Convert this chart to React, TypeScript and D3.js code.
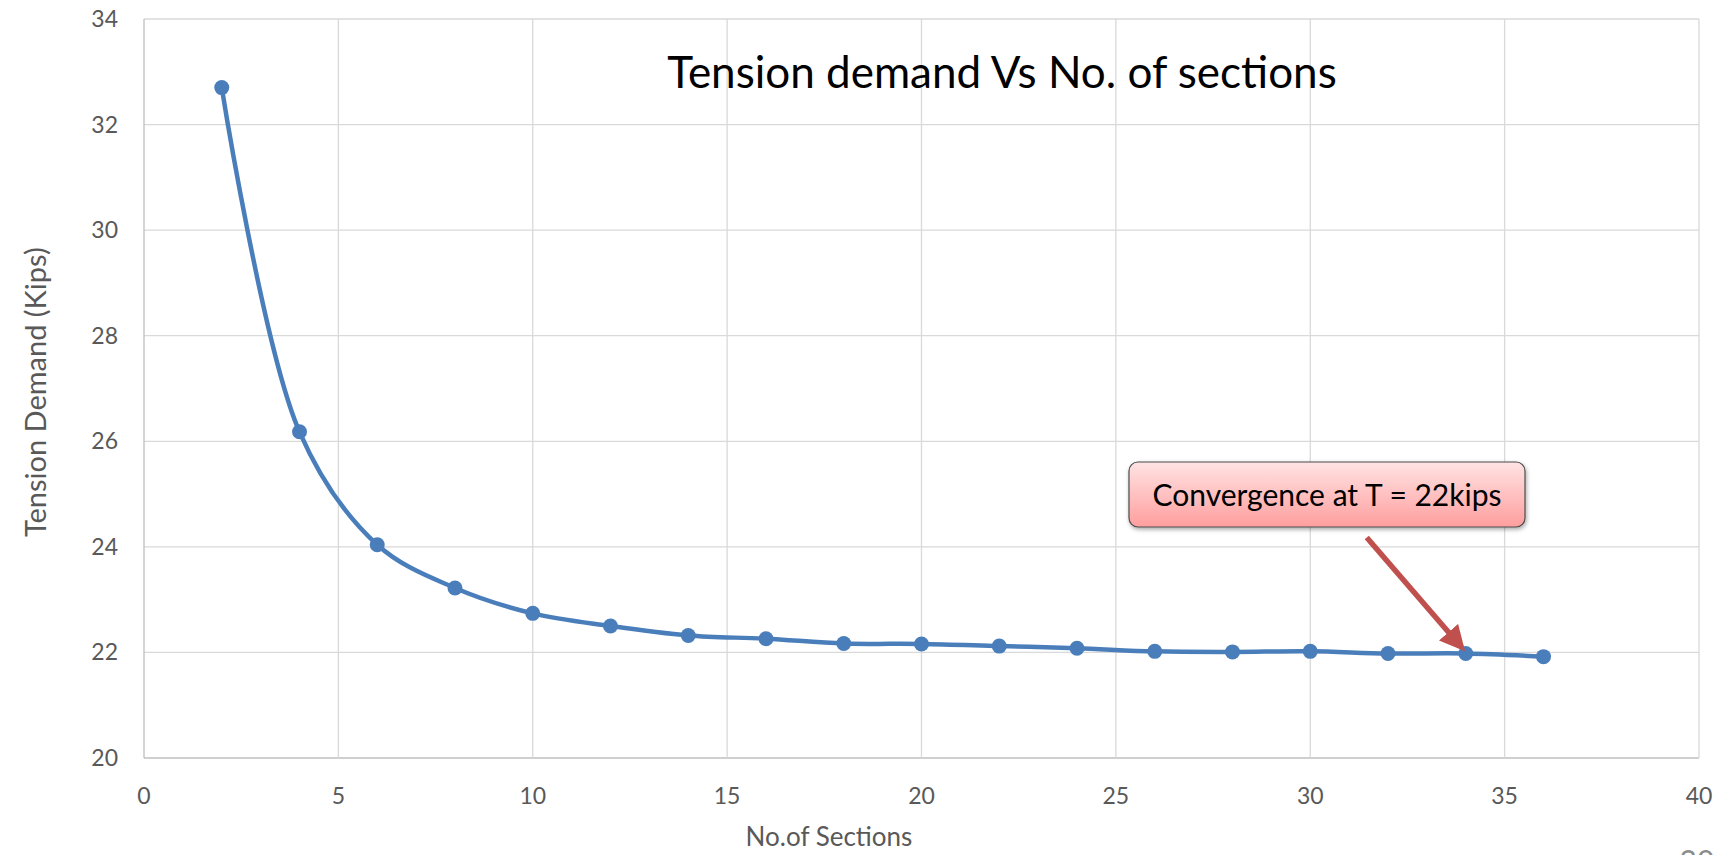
import * as d3 from "d3";
import { useEffect, useRef } from "react";

const sections = [2, 4, 6, 8, 10, 12, 14, 16, 18, 20, 22, 24, 26, 28, 30, 32, 34, 36];
const tension = [32.7, 26.18, 24.04, 23.22, 22.74, 22.5, 22.32, 22.26, 22.17, 22.16, 22.12, 22.08, 22.02, 22.01, 22.02, 21.98, 21.98, 21.92];
const xTicks = [0, 5, 10, 15, 20, 25, 30, 35, 40];
const yTicks = [20, 22, 24, 26, 28, 30, 32, 34];

const chartTitle = "Tension demand Vs No. of sections";
const xLabel = "No.of Sections";
const yLabel = "Tension Demand (Kips)";
const noteText = "Convergence at T = 22kips";
const noteAt = { x: 34, y: 21.98 };
const slideNo = "20";

const W = 1726;
const H = 855;

const Chart = () => {
    const svgRef = useRef<SVGSVGElement | null>(null);

    useEffect(() => {
        if (!svgRef.current) return;
        const margin = { top: 19, right: 27, bottom: 97, left: 144 };
        const innerW = W - margin.left - margin.right;
        const innerH = H - margin.top - margin.bottom;

        const svg = d3.select(svgRef.current);
        svg.selectAll("*").remove();

        const defs = svg.append("defs");
        const grad = defs.append("linearGradient")
            .attr("id", "noteFill")
            .attr("x1", 0).attr("y1", 0).attr("x2", 0).attr("y2", 1);
        grad.append("stop").attr("offset", "0%").attr("stop-color", "#ffe3e3");
        grad.append("stop").attr("offset", "100%").attr("stop-color", "#ff9e9e");

        const shadow = defs.append("filter").attr("id", "shadow")
            .attr("x", "-10%").attr("y", "-20%").attr("width", "130%").attr("height", "160%");
        shadow.append("feDropShadow")
            .attr("dx", 1).attr("dy", 2).attr("stdDeviation", 2)
            .attr("flood-color", "#000").attr("flood-opacity", 0.35);

        defs.append("marker")
            .attr("id", "arrowHead")
            .attr("viewBox", "0 0 10 10")
            .attr("refX", 8).attr("refY", 5)
            .attr("markerWidth", 4.6).attr("markerHeight", 4.6)
            .attr("orient", "auto")
            .attr("markerUnits", "strokeWidth")
            .append("path")
            .attr("d", "M0,0 L10,5 L0,10 z")
            .attr("fill", "#c0504d");

        const g = svg.append("g")
            .attr("transform", `translate(${margin.left},${margin.top})`);

        const x = d3.scaleLinear().domain([0, 40]).range([0, innerW]);
        const y = d3.scaleLinear().domain([20, 34]).range([innerH, 0]);

        // gridlines
        g.append("g")
            .selectAll("line")
            .data(yTicks)
            .join("line")
            .attr("x1", 0).attr("x2", innerW)
            .attr("y1", d => y(d)).attr("y2", d => y(d))
            .attr("stroke", d => (d === 20 ? "#bfbfbf" : "#d9d9d9"))
            .attr("stroke-width", 1.3);

        g.append("g")
            .selectAll("line")
            .data(xTicks)
            .join("line")
            .attr("x1", d => x(d)).attr("x2", d => x(d))
            .attr("y1", 0).attr("y2", innerH)
            .attr("stroke", d => (d === 0 ? "#bfbfbf" : "#d9d9d9"))
            .attr("stroke-width", 1.3);

        // tick labels
        const font = "Lato, 'Open Sans', sans-serif";
        g.append("g")
            .selectAll("text")
            .data(yTicks)
            .join("text")
            .attr("x", -26)
            .attr("y", d => y(d))
            .attr("dy", "0.35em")
            .attr("text-anchor", "end")
            .attr("font-family", font)
            .attr("font-size", 23)
            .attr("fill", "#595959")
            .text(d => d);

        g.append("g")
            .selectAll("text")
            .data(xTicks)
            .join("text")
            .attr("x", d => x(d))
            .attr("y", innerH + 38)
            .attr("dy", "0.35em")
            .attr("text-anchor", "middle")
            .attr("font-family", font)
            .attr("font-size", 23)
            .attr("fill", "#595959")
            .text(d => d);

        // axis titles
        svg.append("text")
            .attr("x", 829)
            .attr("y", 837)
            .attr("dy", "0.35em")
            .attr("text-anchor", "middle")
            .attr("font-family", font)
            .attr("font-size", 26)
            .attr("fill", "#595959")
            .text(xLabel);

        svg.append("text")
            .attr("transform", `translate(36,${margin.top + y(26.93)}) rotate(-90)`)
            .attr("dy", "0.35em")
            .attr("text-anchor", "middle")
            .attr("font-family", font)
            .attr("font-size", 29)
            .attr("fill", "#595959")
            .text(yLabel);

        // series
        const pts = sections.map((s, i) => [s, tension[i]] as [number, number]);
        const line = d3.line<[number, number]>()
            .x(d => x(d[0]))
            .y(d => y(d[1]))
            .curve(d3.curveCatmullRom.alpha(0.5));

        g.append("path")
            .datum(pts)
            .attr("d", line)
            .attr("fill", "none")
            .attr("stroke", "#4a7ebb")
            .attr("stroke-width", 4.5)
            .attr("stroke-linejoin", "round");

        g.append("g")
            .selectAll("circle")
            .data(pts)
            .join("circle")
            .attr("cx", d => x(d[0]))
            .attr("cy", d => y(d[1]))
            .attr("r", 7.5)
            .attr("fill", "#4a7ebb");

        // chart title
        svg.append("text")
            .attr("x", 1002)
            .attr("y", 73)
            .attr("dy", "0.35em")
            .attr("text-anchor", "middle")
            .attr("font-family", font)
            .attr("font-size", 44)
            .attr("fill", "#000")
            .text(chartTitle);

        // callout
        const tipX = margin.left + x(noteAt.x) - 4;
        const tipY = margin.top + y(noteAt.y) - 6;
        svg.append("line")
            .attr("x1", tipX - 95)
            .attr("y1", tipY - 110)
            .attr("x2", tipX)
            .attr("y2", tipY)
            .attr("stroke", "#c0504d")
            .attr("stroke-width", 5.5)
            .attr("marker-end", "url(#arrowHead)");

        const boxX = 1129, boxY = 462, boxW = 396, boxH = 65;
        svg.append("rect")
            .attr("x", boxX).attr("y", boxY)
            .attr("width", boxW).attr("height", boxH)
            .attr("rx", 9)
            .attr("fill", "url(#noteFill)")
            .attr("stroke", "#4d4d4d")
            .attr("stroke-width", 1.2)
            .attr("filter", "url(#shadow)");

        svg.append("text")
            .attr("x", boxX + boxW / 2)
            .attr("y", boxY + boxH / 2 + 1)
            .attr("dy", "0.35em")
            .attr("text-anchor", "middle")
            .attr("font-family", font)
            .attr("font-size", 30)
            .attr("fill", "#000")
            .text(noteText);

        // slide number, cut at the bottom edge as in the source slide
        svg.append("text")
            .attr("x", 1697)
            .attr("y", 872)
            .attr("text-anchor", "middle")
            .attr("font-family", font)
            .attr("font-size", 30)
            .attr("fill", "#8c8c8c")
            .text(slideNo);
    }, []);

    return (
        <svg
            ref={svgRef}
            width={W}
            height={H}
            style={{ position: "absolute", left: 0, top: 0, background: "#fff", overflow: "hidden" }}
        />
    );
};

export default function App() {
    return <Chart />;
}
